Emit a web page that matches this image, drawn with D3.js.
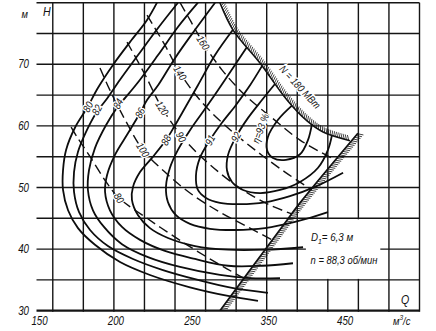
<!DOCTYPE html>
<html><head><meta charset="utf-8">
<script src="https://cdn.jsdelivr.net/npm/d3@7"></script>
<style>
body{margin:0;background:#fff;}
svg{display:block;}
text{font-family:"Liberation Sans","DejaVu Sans",sans-serif;font-style:italic;fill:#111;}
</style></head><body>
<svg id="c" width="436" height="331"></svg>
<script>
// ---- tick labels (as printed on the original) ----
const xTickValues = [150, 200, 250, 300, 350];
const xTickLabels = ["150", "200", "250", "350", "450"];
const yTickValues = [30, 40, 50, 60, 70];
const yTickLabels = ["30", "40", "50", "60", "70"];

// ---- efficiency contours η, % (Q m3/s, H m) ----
const effNames = ["80", "82", "84", "86", "88", "90", "91", "92", "η=93 %"];
const eff80 = [[228.2,80.0],[221.7,77.2],[210.5,73.6],[199.4,69.9],[189.6,66.2],[182.4,62.9],[174.5,59.7],[168.7,56.1],[166.7,52.8],[166.7,49.6],[170.0,46.3],[176.5,43.4],[187.6,40.7],[204.0,37.9],[223.6,35.8],[249.8,33.8],[274.7,32.4],[294.3,31.6]];
const eff82 = [[241.9,80.0],[228.9,75.9],[215.8,71.5],[204.0,67.5],[194.8,64.2],[188.9,62.3],[181.7,59.0],[176.5,55.8],[173.9,52.5],[173.9,49.3],[177.2,46.0],[184.4,43.1],[196.1,40.5],[212.5,38.4],[232.1,36.6],[255.0,35.0],[277.3,33.7],[300.8,32.9]];
const eff84 = [[255.0,80.0],[241.9,76.05],[228.9,71.5],[217.1,67.5],[207.9,64.7],[202.7,63.2],[194.8,60.1],[187.6,56.4],[183.7,52.8],[183.0,49.6],[186.3,46.3],[193.5,43.6],[205.3,40.8],[222.3,38.7],[243.3,37.1],[269.4,35.8],[289.1,35.3],[308.7,35.3]];
const eff86 = [[266.2,80.0],[253.1,75.6],[240.0,71.0],[228.9,66.6],[221.7,64.2],[217.1,62.1],[209.2,58.8],[200.7,55.3],[195.5,52.0],[194.2,49.3],[197.4,46.3],[205.3,43.6],[217.1,41.5],[233.4,39.7],[253.1,38.4],[274.7,37.3],[296.9,37.3],[317.2,37.7]];
const eff88 = [[277.9,75.6],[266.2,71.5],[255.0,66.6],[246.5,62.9],[240.0,60.1],[234.1,57.7],[224.9,54.8],[217.1,52.5],[212.5,50.1],[211.8,48.0],[215.8,45.5],[223.6,43.4],[235.4,41.8],[253.1,40.5],[274.7,39.9],[298.9,39.9],[323.8,40.3]];
const eff90 = [[287.1,72.8],[277.9,69.4],[268.1,65.8],[258.3,62.3],[249.8,59.3],[241.9,56.1],[236.7,53.2],[234.1,50.2],[235.4,47.6],[240.6,45.5],[249.8,44.1],[262.9,43.3],[279.3,43.1],[298.9,43.4],[318.5,44.4],[340.1,46.0]];
const eff91 = [[296.9,69.7],[289.1,66.6],[279.9,63.4],[270.7,60.5],[262.9,57.7],[256.3,54.8],[253.7,51.9],[255.0,49.6],[260.3,48.3],[269.4,47.5],[282.5,47.3],[298.9,47.6],[315.2,48.6],[331.6,50.1],[350.0,52.4]];
const eff92 = [[305.4,66.8],[296.9,64.2],[287.8,61.3],[279.9,58.2],[274.7,55.3],[274.0,52.8],[277.3,50.9],[284.5,49.6],[295.6,49.1],[308.7,49.6],[321.8,50.9],[333.6,53.2],[340.1,56.1],[342.7,58.5]];
const eff93 = [[316.5,63.3],[307.4,61.0],[300.8,58.2],[300.2,56.1],[304.1,54.8],[312.6,54.5],[321.8,55.4],[327.0,57.7],[329.6,60.3]];
// label anchors on the contours (Q, H)
const effLabelAt = [[183.0,63.1],[188.9,62.6],[202.7,63.6],[217.1,62.1],[234.1,57.7],[243.9,58.2],[262.9,57.7],[279.9,58.2],[296.0,59.6]];

// ---- power lines N, MW (dashed) ----
const powNames = ["80", "100", "120", "140", "160"];
const pow80  = [[172.0,59.8],[175.9,58.2],[184.4,55.0],[195.5,50.7],[203.3,48.3],[221.7,45.0],[234.8,42.8],[247.8,40.7],[260.9,38.7],[274.0,36.8],[287.1,35.0]];
const pow100 = [[190.9,69.4],[197.4,65.8],[207.3,61.0],[219.0,56.1],[233.4,52.5],[249.8,49.1],[269.4,46.0],[289.1,43.4],[303.5,41.5]];
const pow120 = [[208.6,73.6],[220.4,68.3],[231.5,62.9],[246.5,57.7],[262.9,53.7],[282.5,49.9],[300.8,47.3],[316.6,45.7]];
const pow140 = [[221.7,78.0],[233.4,73.1],[243.3,68.6],[256.3,64.2],[272.7,60.1],[292.3,56.1],[312.0,52.5],[329.6,49.6]];
const pow160 = [[243.3,80.0],[249.8,77.2],[258.3,73.5],[270.7,69.1],[285.8,65.0],[303.5,61.3],[321.8,57.7],[344.7,54.5]];
const powLabelAt = [[203.3,48.3],[219.0,56.1],[231.5,62.9],[243.3,68.6],[258.3,73.5]];

// ---- limits ----
const limitN180 = [[269.4,80.0],[277.9,75.6],[295.6,70.2],[313.3,64.2],[326.4,60.8],[336.9,59.0],[354.5,57.6]];
const limitLine = [[269.4,30.0],[310.0,43.6],[321.8,47.5],[359.7,58.8]];

const svg = d3.select("#c");
const x = d3.scaleLinear().domain([150, 400]).range([37.5, 419.5]);
const y = d3.scaleLinear().domain([30, 80]).range([310.7, 2.7]);

// condensed italic text helper
function ctext(sel, txt, px, py, fs, anchor, squeeze) {
  const t = sel.append("text")
    .attr("transform", `translate(${px},${py}) scale(${squeeze},1)`)
    .attr("text-anchor", anchor).attr("font-size", fs).text(txt);
  return t;
}

// grid
const g = svg.append("g");
g.selectAll(".vx").data(x.ticks(10)).join("line")
  .attr("x1", d => x(d)).attr("x2", d => x(d)).attr("y1", y(30) + 1).attr("y2", y(80))
  .attr("stroke", "#151515").attr("stroke-width", d => d === 150 ? 2.2 : 1.4);
g.selectAll(".hy").data(y.ticks(10)).join("line")
  .attr("x1", x(150) - 1).attr("x2", x(400)).attr("y1", d => y(d)).attr("y2", d => y(d))
  .attr("stroke", "#151515").attr("stroke-width", d => d === 30 ? 2.2 : 1.4);

// blank box for the note
g.append("rect").attr("x", x(325) + 1).attr("y", y(45) + 1)
  .attr("width", x(375) - x(325) - 2).attr("height", y(35) - y(45) - 2).attr("fill", "#fff");

// axis labels
const ax = svg.append("g");
xTickValues.forEach((v, i) => ctext(ax, xTickLabels[i], x(v) + 2, 325, 12.5, "middle", 0.78));
yTickValues.forEach((v, i) => ctext(ax, yTickLabels[i], 29, y(v) + 4, 12.5, "end", 0.78));
ctext(ax, "м", 28, 18, 11, "end", 0.85);
ctext(ax, "H", 43, 16, 12.5, "start", 0.85);
ctext(ax, "Q", 401, 304, 12.5, "start", 0.85);
const mu = svg.append("text").attr("transform", "translate(393,325) scale(0.82,1)").attr("font-size", 11.5);
mu.append("tspan").text("м");
mu.append("tspan").attr("dy", -5).attr("font-size", 8).text("3");
mu.append("tspan").attr("dy", 5).text("/с");

// clip to plot
svg.append("clipPath").attr("id", "pc").append("rect")
  .attr("x", x(150)).attr("y", y(80)).attr("width", x(400) - x(150)).attr("height", y(30) - y(80));
const plot = svg.append("g").attr("clip-path", "url(#pc)");

const line = d3.line().x(d => x(d[0])).y(d => y(d[1])).curve(d3.curveCatmullRom.alpha(0.5));

// dashed power lines
const pows = [pow80, pow100, pow120, pow140, pow160];
plot.selectAll(".pw").data(pows).join("path")
  .attr("d", line).attr("fill", "none").attr("stroke", "#111")
  .attr("stroke-width", 1.4).attr("stroke-dasharray", "10,5");

// efficiency contours
const effs = [eff80, eff82, eff84, eff86, eff88, eff90, eff91, eff92, eff93];
plot.selectAll(".ef").data(effs).join("path")
  .attr("d", line).attr("fill", "none").attr("stroke", "#0d0d0d").attr("stroke-width", 1.8);

// hatch helper
function hatch(node, side, len, step, ang) {
  const L = node.getTotalLength(), out = [];
  for (let s = step / 2; s < L; s += step) {
    const p = node.getPointAtLength(s);
    const a = node.getPointAtLength(Math.max(0, s - 0.6)), b = node.getPointAtLength(Math.min(L, s + 0.6));
    let tx = b.x - a.x, ty = b.y - a.y; const n = Math.hypot(tx, ty) || 1; tx /= n; ty /= n;
    const nx = -ty * side, ny = tx * side, c = Math.cos(ang), sn = Math.sin(ang);
    out.push([p.x, p.y, p.x + (nx * c - ny * sn) * len, p.y + (nx * sn + ny * c) * len]);
  }
  return out;
}

// N = 180 MW limit
const nPath = plot.append("path").attr("d", line(limitN180)).attr("fill", "none")
  .attr("stroke", "#111").attr("stroke-width", 1.6);
plot.append("g").selectAll("line").data(hatch(nPath.node(), -1, 5.5, 2.3, -0.5)).join("line")
  .attr("x1", d => d[0]).attr("y1", d => d[1]).attr("x2", d => d[2]).attr("y2", d => d[3])
  .attr("stroke", "#111").attr("stroke-width", 0.8);

// straight limit line
const lPath = plot.append("path").attr("d", line(limitLine)).attr("fill", "none")
  .attr("stroke", "#111").attr("stroke-width", 1.8);
plot.append("g").selectAll("line").data(hatch(lPath.node(), 1, 6, 2.3, -0.5)).join("line")
  .attr("x1", d => d[0]).attr("y1", d => d[1]).attr("x2", d => d[2]).attr("y2", d => d[3])
  .attr("stroke", "#111").attr("stroke-width", 0.8);

// labels with halo
function lab(sel, txt, px, py, rot, fs) {
  sel.append("text").attr("transform", `translate(${px},${py}) rotate(${rot}) scale(0.85,1)`)
    .attr("text-anchor", "middle").attr("dy", "0.35em").attr("font-size", fs)
    .attr("stroke", "#fff").attr("stroke-width", 3).attr("paint-order", "stroke").text(txt);
}
const Lg = svg.append("g");
effNames.forEach((t, i) => {
  const rot = i === 8 ? -70 : (i === 5 ? 62 : -62);
  lab(Lg, t, x(effLabelAt[i][0]), y(effLabelAt[i][1]), rot, 10.5);
});
powNames.forEach((t, i) => lab(Lg, t, x(powLabelAt[i][0]), y(powLabelAt[i][1]), 58, 10.5));
lab(Lg, "N = 180 МВт", 300, 87, 47, 10.5);

// note
const n1 = svg.append("text").attr("transform", "translate(332,241) scale(0.85,1)").attr("text-anchor", "middle").attr("font-size", 11.5);
n1.append("tspan").text("D");
n1.append("tspan").attr("dy", 3).attr("font-size", 8).text("1");
n1.append("tspan").attr("dy", -3).text("= 6,3 м");
ctext(svg, "n = 88,3 об/мин", 344, 264, 11.5, "middle", 0.82);
</script>
</body></html>
